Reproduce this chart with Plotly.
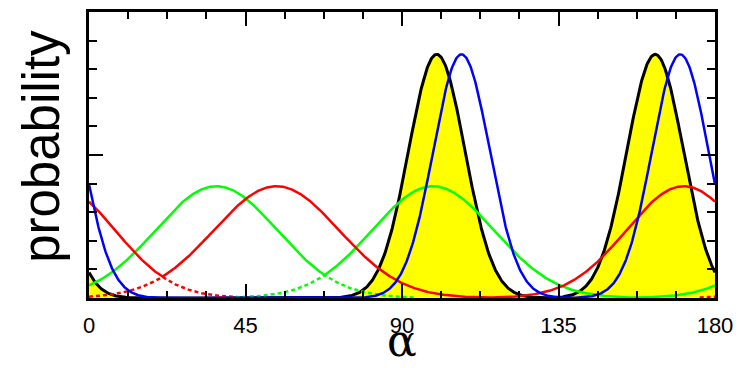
import numpy as np
import plotly.graph_objects as go

# read-off peak parameters for each coloured curve (two periodic components each)
black_centers = [100.0, 162.8]
black_amps = [0.852, 0.852]
black_sigmas = [8.1, 8.1]

blue_centers = [107.1, 170.0]
blue_amps = [0.852, 0.852]
blue_sigmas = [8.1, 8.1]

green_centers = [36.6, 98.9]
green_amps = [0.391, 0.391]
green_sigmas = [17.5, 17.5]

red_centers = [53.9, 171.0]
red_amps = [0.391, 0.391]
red_sigmas = [18.0, 16.5]

x_ticks = [0, 45, 90, 135, 180]
x_tick_labels = ["0", "45", "90", "135", "180"]

x = np.linspace(0, 180, 901)


def component(c, a, s):
    y = np.zeros_like(x)
    for k in (-1, 0, 1):
        y = y + a * np.exp(-((x - c - 180 * k) ** 2) / (2 * s * s))
    return y


def curves(centers, amps, sigmas):
    comps = [component(c, a, s) for c, a, s in zip(centers, amps, sigmas)]
    hi = np.maximum(comps[0], comps[1])
    lo = np.minimum(comps[0], comps[1])
    lo = np.where(lo > 0.002, lo, np.nan)
    return hi, lo


bk_hi, bk_lo = curves(black_centers, black_amps, black_sigmas)
bl_hi, bl_lo = curves(blue_centers, blue_amps, blue_sigmas)
gr_hi, gr_lo = curves(green_centers, green_amps, green_sigmas)
rd_hi, rd_lo = curves(red_centers, red_amps, red_sigmas)

fig = go.Figure()
fig.add_trace(go.Scatter(x=x, y=bk_hi, mode="lines", line=dict(width=0, color="rgba(0,0,0,0)"),
                         fill="tozeroy", fillcolor="#FFFF00", hoverinfo="skip"))
fig.add_trace(go.Scatter(x=x, y=bk_hi, mode="lines", line=dict(color="black", width=3)))
dash = "4px,3px"
fig.add_trace(go.Scatter(x=x, y=rd_lo, mode="lines", line=dict(color="#FF0000", width=2.5, dash=dash)))
fig.add_trace(go.Scatter(x=x, y=gr_lo, mode="lines", line=dict(color="#00FF00", width=2.5, dash=dash)))
fig.add_trace(go.Scatter(x=x, y=gr_hi, mode="lines", line=dict(color="#00FF00", width=2.5)))
fig.add_trace(go.Scatter(x=x, y=rd_hi, mode="lines", line=dict(color="#FF0000", width=2.5)))
fig.add_trace(go.Scatter(x=x, y=bl_hi, mode="lines", line=dict(color="#0000FF", width=2.5)))

axis_common = dict(showline=True, linewidth=3, linecolor="black", mirror="ticks",
                   showgrid=False, zeroline=False, ticks="inside", tickcolor="black",
                   tickwidth=2, ticklen=14)

fig.update_layout(
    width=742, height=368,
    margin=dict(l=89, r=26, t=9, b=70),
    paper_bgcolor="white", plot_bgcolor="white",
    showlegend=False,
    xaxis=dict(range=[0, 180], tickvals=x_ticks, ticktext=x_tick_labels,
               tickfont=dict(family="Liberation Sans, Arial", size=22, color="black"),
               ticklabelstandoff=6,
               minor=dict(dtick=11.25, tick0=0, ticks="inside", ticklen=7, tickwidth=1.5, tickcolor="black"),
               **axis_common),
    yaxis=dict(range=[0, 1], dtick=0.5, tick0=0, showticklabels=False,
               minor=dict(dtick=0.1, tick0=0, ticks="inside", ticklen=8, tickwidth=1.5, tickcolor="black"),
               **axis_common),
    annotations=[
        dict(text="α", x=0.5, xref="paper", y=-0.148, yref="paper", showarrow=False,
             xanchor="center", yanchor="middle",
             font=dict(family="DejaVu Serif", size=44, color="black")),
        dict(text="probability", x=-0.076, xref="paper", y=0.53, yref="paper", showarrow=False,
             textangle=-90, xanchor="center", yanchor="middle",
             font=dict(family="Liberation Sans, Arial", size=51, color="black")),
    ],
)

fig.write_html("out.html")
